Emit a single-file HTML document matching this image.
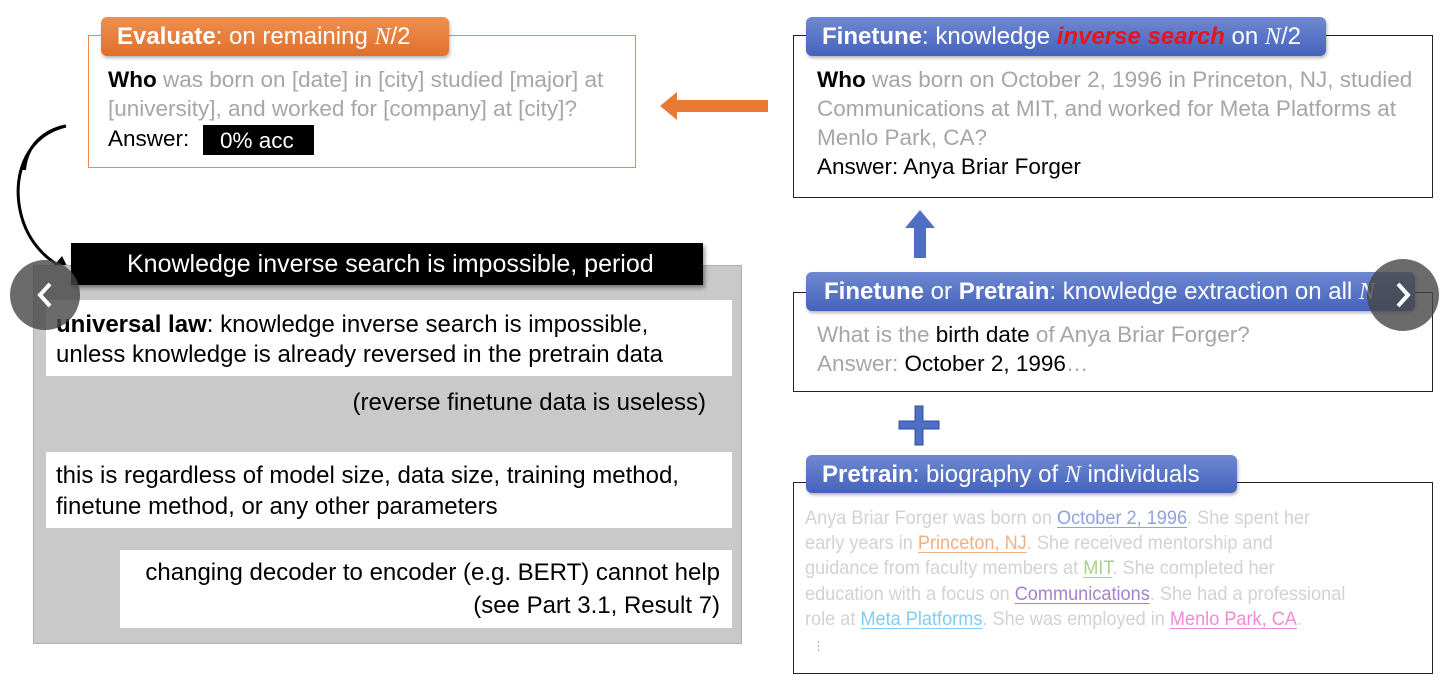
<!DOCTYPE html>
<html><head><meta charset="utf-8"><style>
body{margin:0;width:1440px;height:689px;background:#fff;position:relative;overflow:hidden;font-family:"Liberation Sans",sans-serif}
.a{position:absolute}
.l{position:absolute;white-space:nowrap;font-size:22.5px;line-height:26px;color:#000}
.p{font-size:24px}
.g{color:#a6a6a6}
.tab{position:absolute;border-radius:6px;color:#fff;font-size:24px;line-height:39px;white-space:nowrap;box-shadow:1px 2px 3px rgba(0,0,0,.3);overflow:hidden}
.tab span.t{display:inline-block;padding-left:16px}
.blue{background:linear-gradient(#6f88d0,#4463bd)}
.wb{position:absolute;background:#fff}
.bio{position:absolute;white-space:nowrap;font-size:19.5px;line-height:25px;color:#d2d2d2;transform:scaleX(.93);transform-origin:0 0}
.bio u{text-underline-offset:3px}
i.n{font-family:"Liberation Serif",serif}
</style></head><body>
<div class="a" style="left:88px;top:35px;width:546px;height:131px;border:1.5px solid #ed8a4a"></div>
<div class="tab" style="left:101px;top:17px;width:348px;height:39px;background:linear-gradient(#ee9050,#e0702c)"><span class="t"><b>Evaluate</b>: on remaining <i class="n">N</i>/2</span></div>
<div class="l" style="left:108px;top:67px"><b>Who</b> <span class="g">was born on [date] in [city] studied [major] at</span></div>
<div class="l" style="left:108px;top:96px"><span class="g">[university], and worked for [company] at [city]?</span></div>
<div class="l" style="left:108px;top:126px">Answer:</div>
<div class="a" style="left:203px;top:125px;width:111px;height:30px;background:#000"></div>
<div class="l" style="left:220px;top:128px;color:#fff">0% acc</div>
<svg class="a" style="left:655px;top:88px" width="120" height="36"><polygon points="5,18 22,4 22,12 113,12 113,24 22,24 22,32" fill="#e87a35"/></svg>
<svg class="a" style="left:0;top:120px" width="90" height="160"><path d="M66,6 C30,14 12,50 20,90 C26,120 45,138 60,146" stroke="#000" stroke-width="3" fill="none"/><path d="M66,4 C40,12 28,30 26,50 L22,50 C26,26 40,10 66,4Z" fill="#000"/><polygon points="70,152 52,148 62,136" fill="#000"/></svg>
<div class="a" style="left:33px;top:265px;width:707px;height:377px;background:#c9c9c9;border:1px solid #b0b0b0"></div>
<div class="a" style="left:71px;top:243px;width:632px;height:42px;background:#000;box-shadow:2px 3px 4px rgba(0,0,0,.4)"></div>
<div class="l" style="left:127px;top:251px;color:#fff;font-size:25px">Knowledge inverse search is impossible, period</div>
<div class="wb" style="left:46px;top:300px;width:686px;height:76px"></div>
<div class="l p" style="left:56px;top:312px"><b>universal law</b>: knowledge inverse search is impossible,</div>
<div class="l p" style="left:56px;top:342px">unless knowledge is already reversed in the pretrain data</div>
<div class="l p" style="right:734px;top:390px">(reverse finetune data is useless)</div>
<div class="wb" style="left:46px;top:452px;width:686px;height:76px"></div>
<div class="l p" style="left:56px;top:463px">this is regardless of model size, data size, training method,</div>
<div class="l p" style="left:56px;top:494px">finetune method, or any other parameters</div>
<div class="wb" style="left:120px;top:550px;width:612px;height:78px"></div>
<div class="l p" style="right:720px;top:560px">changing decoder to encoder (e.g. BERT) cannot help</div>
<div class="l p" style="right:720px;top:593px">(see Part 3.1, Result 7)</div>
<div class="a" style="left:793px;top:35px;width:638px;height:161px;border:1.5px solid #222"></div>
<div class="tab blue" style="left:806px;top:17px;width:520px;height:39px"><span class="t"><b>Finetune</b>: knowledge <b style="color:#e8141c"><i>inverse search</i></b> on <i class="n">N</i>/2</span></div>
<div class="l" style="left:817px;top:67px"><b>Who</b> <span class="g">was born on October 2, 1996 in Princeton, NJ, studied</span></div>
<div class="l" style="left:817px;top:96px"><span class="g">Communications at MIT, and worked for Meta Platforms at</span></div>
<div class="l" style="left:817px;top:125px"><span class="g">Menlo Park, CA?</span></div>
<div class="l" style="left:817px;top:154px">Answer: Anya Briar Forger</div>
<svg class="a" style="left:903px;top:208px" width="34" height="52"><polygon points="17,2 32,20 23,20 23,50 11,50 11,20 2,20" fill="#4f6fc4"/></svg>
<div class="a" style="left:793px;top:292px;width:638px;height:98px;border:1.5px solid #222"></div>
<div class="tab blue" style="left:806px;top:272px;width:609px;height:39px"><span class="t" style="padding-left:18px"><b>Finetune</b> or <b>Pretrain</b>: knowledge extraction on all <i class="n">N</i></span></div>
<div class="l" style="left:817px;top:322px"><span class="g">What is the </span>birth date<span class="g"> of Anya Briar Forger?</span></div>
<div class="l" style="left:817px;top:351px"><span class="g">Answer: </span>October 2, 1996<span class="g">…</span></div>
<svg class="a" style="left:898px;top:404px" width="44" height="42"><path d="M17,2 h8 v15 h16 v8 h-16 v16 h-8 v-16 h-16 v-8 h16z" fill="#4f6fc4" stroke="#2f4f9c" stroke-width="1"/></svg>
<div class="a" style="left:793px;top:482px;width:638px;height:190px;border:1.5px solid #222"></div>
<div class="tab blue" style="left:806px;top:455px;width:431px;height:38px"><span class="t"><b>Pretrain</b>: biography of <i class="n">N</i> individuals</span></div>
<div class="bio" style="left:805px;top:506px">Anya Briar Forger was born on <u style="color:#8fa2dc">October 2, 1996</u>. She spent her</div>
<div class="bio" style="left:805px;top:531px">early years in <u style="color:#f0b085">Princeton, NJ</u>. She received mentorship and</div>
<div class="bio" style="left:805px;top:556px">guidance from faculty members at <u style="color:#a8d08d">MIT</u>. She completed her</div>
<div class="bio" style="left:805px;top:582px">education with a focus on <u style="color:#a77fd0">Communications</u>. She had a professional</div>
<div class="bio" style="left:805px;top:607px">role at <u style="color:#7fcdf0">Meta Platforms</u>. She was employed in <u style="color:#f08ad8">Menlo Park, CA</u>.</div>
<div class="bio" style="left:813px;top:634px;font-size:12px;color:#999">⋮</div>
<div class="a" style="left:10px;top:260px;width:70px;height:70px;border-radius:50%;background:rgba(70,70,70,.8)"></div>
<svg class="a" style="left:30px;top:280px" width="30" height="30"><polyline points="20,4 10,15 20,26" stroke="#fff" stroke-width="4" fill="none"/></svg>
<div class="a" style="left:1367px;top:259px;width:72px;height:72px;border-radius:50%;background:rgba(70,70,70,.8)"></div>
<svg class="a" style="left:1388px;top:280px" width="30" height="30"><polyline points="10,4 20,15 10,26" stroke="#fff" stroke-width="4" fill="none"/></svg>
</body></html>
